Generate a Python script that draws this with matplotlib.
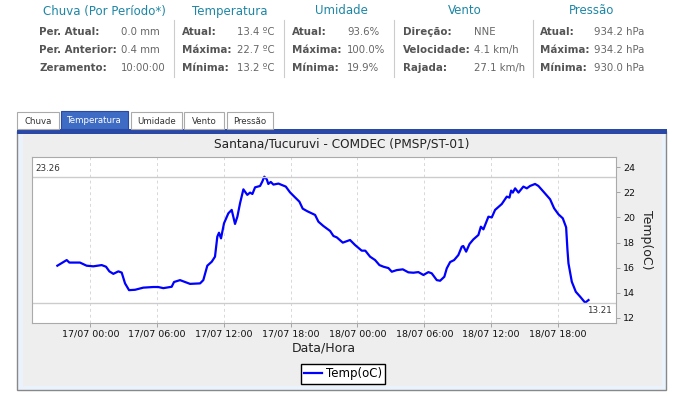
import matplotlib.pyplot as plt
from matplotlib.patches import Rectangle

# hours counted from 17/07 00:00
hours = [-2.96, -2.12, -1.88, -0.93, -0.33, 0.27, 1.02, 1.41, 1.71, 2.07, 2.52, 2.82,
         3.12, 3.48, 4.02, 4.76, 5.66, 6.1, 6.56, 7.31, 7.52, 8.06, 8.66, 8.96, 9.86,
         10.15, 10.51, 10.91, 11.2, 11.41, 11.56, 11.74, 12.01, 12.4, 12.7, 13.0, 13.21,
         13.45, 13.75, 14.1, 14.35, 14.56, 14.8, 15.25, 15.45, 15.63, 15.85, 15.99, 16.21,
         16.45, 16.9, 17.56, 17.94, 18.39, 18.78, 19.08, 19.5, 20.19, 20.49, 20.93, 21.54,
         21.84, 22.14, 22.68, 23.33, 23.78, 24.38, 24.7, 25.13, 25.58, 25.97, 26.33, 26.78,
         27.08, 27.53, 28.07, 28.57, 29.02, 29.47, 29.92, 30.37, 30.67, 31.12, 31.42, 31.8,
         32.02, 32.32, 32.68, 33.06, 33.37, 33.5, 33.76, 34.06, 34.41, 34.86, 35.08, 35.31,
         35.76, 36.06, 36.36, 36.96, 37.41, 37.65, 37.8, 37.95, 38.16, 38.46, 38.9, 39.21,
         39.5, 39.95, 40.25, 40.7, 41.3, 41.66, 42.05, 42.44, 42.74, 42.86, 42.95, 43.25,
         43.61, 44.0, 44.45, 44.75]
temps = [16.15, 16.6, 16.4, 16.4, 16.15, 16.1, 16.2, 16.07, 15.7, 15.5, 15.7, 15.6,
         14.74, 14.2, 14.23, 14.4, 14.45, 14.45, 14.36, 14.47, 14.85, 15.0, 14.8, 14.7, 14.74,
         15.0, 16.15, 16.47, 16.87, 18.47, 18.78, 18.33, 19.53, 20.33, 20.6, 19.48, 20.06,
         21.13, 22.24, 21.8, 21.98, 21.87, 22.4, 22.51, 22.86, 23.25, 23.04, 22.67, 22.83,
         22.62, 22.7, 22.46, 22.0, 21.6, 21.26, 20.7, 20.49, 20.2, 19.66, 19.32, 18.92,
         18.52, 18.41, 17.99, 18.2, 17.8, 17.35, 17.35, 16.87, 16.6, 16.2, 16.07, 15.96,
         15.67, 15.8, 15.86, 15.62, 15.59, 15.64, 15.41, 15.64, 15.54, 15.0, 14.95, 15.27,
         15.94, 16.44, 16.6, 17.0, 17.67, 17.72, 17.27, 17.88, 18.25, 18.6, 19.26, 19.05,
         20.06, 20.0, 20.6, 21.07, 21.66, 21.58, 22.14, 21.98, 22.32, 21.98, 22.46, 22.32,
         22.51, 22.67, 22.51, 22.06, 21.45, 20.73, 20.25, 19.93, 19.21, 17.4, 16.34, 14.87,
         14.07, 13.68, 13.2, 13.41]
t_max = 23.26
t_min = 13.21

tick_hours = [0, 6, 12, 18, 24, 30, 36, 42]
tick_labels = ['17/07 00:00', '17/07 06:00', '17/07 12:00', '17/07 18:00',
               '18/07 00:00', '18/07 06:00', '18/07 12:00', '18/07 18:00']

# header summary
groups = ['Chuva (Por Período*)', 'Temperatura', 'Umidade', 'Vento', 'Pressão']
row_names = [['Per. Atual:', 'Per. Anterior:', 'Zeramento:'],
             ['Atual:', 'Máxima:', 'Mínima:'],
             ['Atual:', 'Máxima:', 'Mínima:'],
             ['Direção:', 'Velocidade:', 'Rajada:'],
             ['Atual:', 'Máxima:', 'Mínima:']]
row_values = [['0.0 mm', '0.4 mm', '10:00:00'],
              ['13.4 ºC', '22.7 ºC', '13.2 ºC'],
              ['93.6%', '100.0%', '19.9%'],
              ['NNE', '4.1 km/h', '27.1 km/h'],
              ['934.2 hPa', '934.2 hPa', '930.0 hPa']]
tabs = ['Chuva', 'Temperatura', 'Umidade', 'Vento', 'Pressão']

W, H = 687, 396
fig = plt.figure(figsize=(W / 100, H / 100), dpi=100)
fig.patch.set_facecolor('white')

def fx(x):
    return x / W

def fy(y):
    return 1 - y / H

def box(x0, y0, x1, y1, **kw):
    fig.add_artist(Rectangle((fx(x0), fy(y1)), fx(x1) - fx(x0), fy(y0) - fy(y1),
                             transform=fig.transFigure, zorder=0, **kw))

# header
title_x = [104, 230, 341, 465, 592]
name_x = [39, 182, 292, 403, 540]
value_x = [121, 237, 347, 474, 594]
rows_y = [32, 50, 68]
for g in range(5):
    fig.text(fx(title_x[g]), fy(11), groups[g], ha='center', va='center',
             fontsize=8.5, color='#1d86a5')
    for r in range(3):
        fig.text(fx(name_x[g]), fy(rows_y[r]), row_names[g][r], ha='left', va='center',
                 fontsize=7.4, color='#555555', fontweight='bold')
        fig.text(fx(value_x[g]), fy(rows_y[r]), row_values[g][r], ha='left', va='center',
                 fontsize=7.3, color='#666666')
for sx in [174, 284, 394, 533]:
    fig.add_artist(plt.Line2D([fx(sx), fx(sx)], [fy(20), fy(77)], color='#cccccc',
                              lw=0.8, transform=fig.transFigure))

# panel
box(17, 131, 666, 390, facecolor='#eaf2fb', edgecolor='#888888', lw=1)
box(23, 134, 662, 386, facecolor='#eeeeee', edgecolor='none')
box(17, 129, 667, 134, facecolor='#2a48a6', edgecolor='none')

tab_x = [(17, 59), (61, 128), (131, 182), (184, 224), (227, 273)]
for i, (a, b) in enumerate(tab_x):
    if i == 1:
        box(a, 111, b, 129, facecolor='#3e6cc4', edgecolor='#2a48a6', lw=0.8)
        fig.text(fx((a + b) / 2), fy(120.5), tabs[i], ha='center', va='center',
                 fontsize=6.2, color='white')
    else:
        box(a, 112, b, 129, facecolor='white', edgecolor='#aaaaaa', lw=0.8)
        fig.text(fx((a + b) / 2), fy(121), tabs[i], ha='center', va='center',
                 fontsize=6.2, color='#333333')

fig.text(fx(342), fy(144), 'Santana/Tucuruvi - COMDEC (PMSP/ST-01)', ha='center',
         va='center', fontsize=8.7, color='#222222')

# chart
ax = fig.add_axes([fx(32), fy(323), fx(616) - fx(32), fy(157) - fy(323)])
ax.set_zorder(5)
ax.set_facecolor('white')
ax.plot(hours, temps, color='#0000ff', lw=1.6, label='Temp(oC)')
ax.axhline(t_max, color='#cccccc', lw=1)
ax.axhline(t_min, color='#cccccc', lw=1)
ax.text(0.005, t_max + 0.25, f'{t_max:.2f}', transform=ax.get_yaxis_transform(),
        ha='left', va='bottom', fontsize=6.3, color='#333333')
ax.text(0.993, t_min - 0.25, f'{t_min:.2f}', transform=ax.get_yaxis_transform(),
        ha='right', va='top', fontsize=6.3, color='#333333')

ax.set_xlim(-5.237, 47.22)
ax.set_ylim(11.58, 24.82)
ax.set_xticks(tick_hours)
ax.set_xticklabels(tick_labels)
ax.set_yticks([12, 14, 16, 18, 20, 22, 24])
ax.yaxis.tick_right()
ax.yaxis.set_label_position('right')
ax.grid(axis='x', color='#d8d8d8', ls=(0, (3, 3)), lw=0.7)
ax.tick_params(axis='both', labelsize=6.8, colors='#111111', length=3, width=0.6,
               pad=2)
ax.tick_params(axis='both', color='#999999')
for s in ax.spines.values():
    s.set_color('#aaaaaa')
ax.set_xlabel('Data/Hora', fontsize=9, color='#222222', labelpad=2)
ax.set_ylabel('Temp(oC)', fontsize=9, color='#222222', rotation=270, labelpad=13)

leg = fig.legend(loc='center', bbox_to_anchor=(fx(343), fy(374)), fontsize=8.5,
                 fancybox=False, edgecolor='black', framealpha=1, handlelength=1.5,
                 handletextpad=0.3, borderpad=0.3, borderaxespad=0)
leg.get_frame().set_linewidth(1)

fig.savefig('out.png', dpi=100)
